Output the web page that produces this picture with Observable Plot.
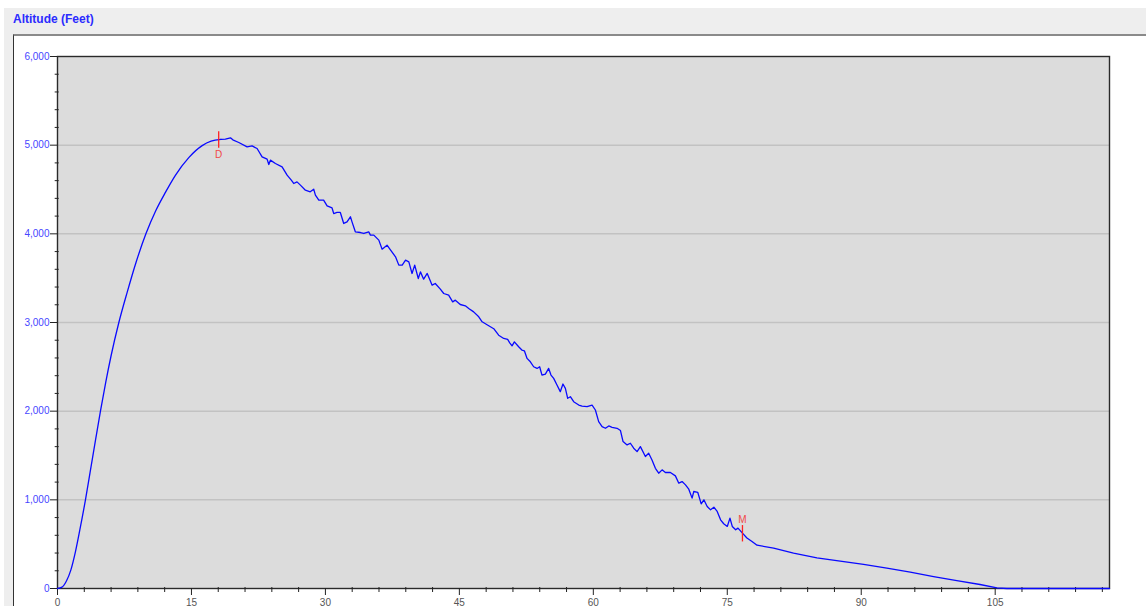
<!DOCTYPE html>
<html>
<head>
<meta charset="utf-8">
<script src="https://cdn.jsdelivr.net/npm/d3@7"></script>
<script src="https://cdn.jsdelivr.net/npm/@observablehq/plot@0.6"></script>
<style>
  html, body { margin: 0; padding: 0; background: #ffffff; }
  body { width: 1146px; height: 606px; overflow: hidden; position: relative; font-family: "Liberation Sans", Arial, sans-serif; }
  #outer { position: absolute; left: 4px; top: 8px; right: 0; bottom: 0; background: #eeeeee; }
  #title { position: absolute; left: 13px; top: 12px; font: bold 12px "Liberation Sans", Arial, sans-serif; color: #2b2bff; }
  #panel { position: absolute; left: 13px; top: 34px; right: 0; bottom: 0; background: #ffffff; border-top: 2px solid #8a8a8a; border-left: 1px solid #333333; }
  #panel svg { display: block; }
</style>
</head>
<body>
<div id="outer"></div>
<div id="title">Altitude (Feet)</div>
<div id="panel"></div>
<script>
// Ascent (smooth climb) — time (s) and altitude (ft)
const ascentTimes = [
  0, 0.5, 1.0, 1.5, 2.0, 2.5, 3.13, 3.7, 4.25, 4.81, 5.4, 6.0, 6.87, 7.8, 8.8, 9.9,
  11.0, 12.1, 13.2, 14.7, 16.2, 17.2, 18.3
];
const ascentAltitudes = [
  0, 15, 85, 210, 410, 660, 1000, 1340, 1670, 2000, 2325, 2625, 3000, 3340, 3680, 4000,
  4260, 4470, 4660, 4860, 4995, 5045, 5065
];
// Descent (noisy) — time (s) and altitude (ft)
const descentTimes = [
  18.3, 18.8, 19.37, 19.63, 20.3, 21.23, 21.79,
  22.35, 22.91, 23.47, 23.66, 23.84, 24.4, 25.15, 25.71, 26.18, 26.45, 26.82, 27.2, 27.76,
  28.3, 28.69, 28.88, 29.26, 29.8, 30.19, 30.74, 30.93, 31.3, 31.67, 32.05, 32.42, 32.8,
  32.98, 33.35, 33.92, 34.3, 34.85, 35.04, 35.42, 35.98, 36.35, 36.9, 37.3, 37.85, 38.22,
  38.6, 38.97, 39.34, 39.7, 40.0, 40.4, 40.64, 41.0, 41.4, 41.95, 42.3, 42.87, 43.25, 43.8,
  44.25, 44.55, 45.1, 45.67, 46.05, 46.6, 47.17, 47.55, 48.1, 48.85, 49.4, 49.97, 50.41,
  50.64, 50.9, 51.16, 51.64, 52.0, 52.28, 52.58, 52.95, 53.32, 53.7, 53.99, 54.25, 54.63,
  55.0, 55.26, 55.56, 55.93, 56.3, 56.6, 56.87, 57.13, 57.43, 57.8, 58.37, 58.74, 59.3,
  59.86, 60.23, 60.6, 60.98, 61.36, 61.73, 62.1, 62.66, 63.04, 63.33, 63.78, 64.15, 64.52,
  64.9, 65.27, 65.83, 66.2, 66.57, 66.95, 67.32, 67.7, 68.07, 68.63, 69.19, 69.57, 69.94,
  70.32, 70.69, 71.06, 71.25, 71.7, 72.08, 72.38, 72.75, 73.13, 73.5, 73.87, 74.25, 74.6,
  75.0, 75.3, 75.56, 75.94, 76.2, 76.7, 77.2, 77.77, 78.33, 80.19, 82.42, 85.04, 87.65,
  90.26, 92.87, 95.49, 98.1, 100.7, 103.3, 105.2, 106.3, 117.8
];
const descentAltitudes = [
  5065, 5068, 5083, 5060, 5030, 4981, 4992,
  4962, 4868, 4842, 4782, 4831, 4793, 4756, 4662, 4605, 4568, 4586, 4549, 4492,
  4474, 4504, 4436, 4380, 4380, 4316, 4293, 4229, 4241, 4241, 4117, 4135, 4192,
  4135, 4023, 4015, 4004, 4023, 3985, 3985, 3929, 3827, 3872, 3816, 3741, 3647,
  3647, 3703, 3684, 3553, 3647, 3496, 3571, 3489, 3553, 3421, 3440, 3376, 3327, 3308,
  3233, 3252, 3203, 3188, 3158, 3120, 3064, 3008, 2975, 2930, 2857, 2820, 2809,
  2771, 2737, 2782, 2726, 2689, 2681, 2595, 2557, 2501, 2482, 2501, 2407, 2418,
  2482, 2407, 2370, 2295, 2220, 2306, 2257, 2145, 2163, 2107, 2069, 2058, 2051,
  2069, 2013, 1882, 1826, 1807, 1833, 1818, 1807, 1781, 1657, 1619, 1638, 1582,
  1544, 1600, 1488, 1525, 1450, 1356, 1300, 1338, 1308, 1308, 1270, 1188, 1206,
  1169, 1120, 1019, 1094, 1083, 955, 1000, 925, 887, 917, 869, 775, 730,
  700, 794, 700, 662, 681, 625, 570, 530, 488, 455, 398, 346, 308,
  271, 229, 184, 135, 90, 45, 8, 0, 0
];

// Event markers (D = drogue, M = main)
const markerLabels = ["D", "M"];
const markerTimes = [18.05, 76.7];
const markerAltitudes = [5065, 625];

// Axis ticks
const xTicks = [0, 15, 30, 45, 60, 75, 90, 105];
const yTicks = [0, 1000, 2000, 3000, 4000, 5000, 6000];
const xDomain = [0, 117.8];
const yDomain = [0, 6000];

const ascent = ascentTimes.map((t, i) => ({t, alt: ascentAltitudes[i]}));
const descent = descentTimes.map((t, i) => ({t, alt: descentAltitudes[i]}));
const markers = markerLabels.map((label, i) => ({label, t: markerTimes[i], alt: markerAltitudes[i]}));
const xMinor = d3.range(0, 118, 3).filter(v => !xTicks.includes(v));
const yMinor = d3.range(0, 6001, 200).filter(v => !yTicks.includes(v));

const chart = Plot.plot({
  width: 1132,
  height: 570,
  marginLeft: 43,
  marginRight: 37,
  marginTop: 20,
  marginBottom: 18,
  x: {domain: xDomain, axis: null},
  y: {domain: yDomain, axis: null},
  style: {fontFamily: "Liberation Sans, Arial, sans-serif", fontSize: "10px", background: "transparent", overflow: "visible"},
  marks: [
    Plot.frame({fill: "#dcdcdc", stroke: null}),
    Plot.gridY(yTicks.slice(1, -1), {stroke: "#c2c2c2", strokeOpacity: 1, strokeWidth: 1.5}),
    Plot.frame({stroke: "#2a2a2a", strokeWidth: 1.4}),
    Plot.axisY(yTicks, {anchor: "left", label: null, tickSize: 7, tickPadding: 1, tickFormat: d3.format(","), stroke: "#222", fill: "#4646ff", fontSize: 10}),
    Plot.axisY(yMinor, {anchor: "left", label: null, tickSize: 4, dx: 1.7, tickFormat: () => "", stroke: "#222"}),
    Plot.axisX(xTicks, {anchor: "bottom", label: null, tickSize: 7, tickPadding: 3, tickFormat: d => String(d), stroke: "#222", fill: "#555", fontSize: 10}),
    Plot.axisX(xMinor, {anchor: "bottom", label: null, tickSize: 5, dy: -1, tickFormat: () => "", stroke: "#222"}),
    Plot.line(ascent, {x: "t", y: "alt", stroke: "#0a0aff", strokeWidth: 1.3, curve: "monotone-x"}),
    Plot.line(descent, {x: "t", y: "alt", stroke: "#0a0aff", strokeWidth: 1.3}),
    Plot.ruleX(markers, {x: "t", y1: d => d.alt + 85, y2: d => d.alt - 100, stroke: "#ff2020", strokeWidth: 1.3}),
    Plot.text(markers.filter(d => d.label === "D"), {x: "t", y: d => d.alt - 100, text: "label", lineAnchor: "top", dy: 3, fill: "#f04848", fontSize: 10}),
    Plot.text(markers.filter(d => d.label === "M"), {x: "t", y: d => d.alt + 85, text: "label", lineAnchor: "bottom", dy: -3, fill: "#f04848", fontSize: 10})
  ]
});
document.getElementById("panel").appendChild(chart);
</script>
</body>
</html>
